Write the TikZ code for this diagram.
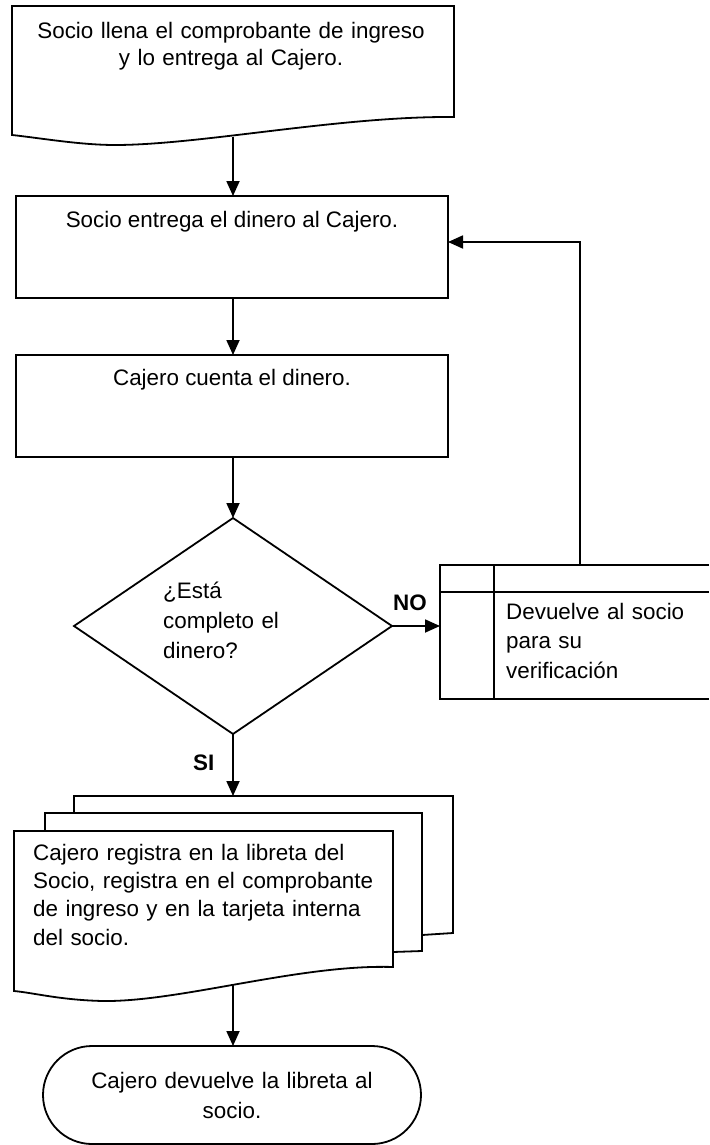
\documentclass[tikz,border=0pt]{standalone}
\usepackage{fontspec}
\setmainfont{Liberation Sans}
\usetikzlibrary{arrows.meta,shapes.geometric}
\begin{document}
\begin{tikzpicture}[x=1pt,y=-1pt,
  shp/.style={draw=black, line width=1.8pt, fill=white},
  box/.style={shp, inner sep=0pt, outer sep=0pt},
  arr/.style={draw=black, line width=1.8pt, -{Triangle[length=15pt,width=13pt]}},
  ln/.style={draw=black, line width=1.8pt},
  txt/.style={inner sep=0pt, font=\fontsize{22.4}{#1}\selectfont},
  lbl/.style={inner sep=0pt, font=\fontsize{22.4}{27}\selectfont\bfseries},
  ]
\useasboundingbox (0,0) rectangle (709,1145);
\fill[white] (0,0) rectangle (709,1145);

% top document
\draw[shp] (12,6) -- (454,6) -- (454,117) .. controls (340,116) and (200,145) .. (115,145) .. controls (80,145) and (40,138) .. (12,135) -- cycle;
\node[txt=27, text width=430pt, align=center, anchor=base] (t1) at (231,39) {Socio llena el comprobante de ingreso\\y lo entrega al Cajero.};
\coordinate (d1b) at (233,137);

% process boxes
\node[box, minimum width=432pt, minimum height=102pt] (r1) at (232,247) {};
\node[txt=29, anchor=base] (t2) at (232,227) {Socio entrega el dinero al Cajero.};
\node[box, minimum width=432pt, minimum height=102pt] (r2) at (232,406) {};
\node[txt=29, anchor=base] (t3) at (232,385) {Cajero cuenta el dinero.};

% decision
\node[box, diamond, minimum width=318pt, minimum height=216pt] (dm) at (233,626) {};
\node[txt=30, text width=150pt, align=left, anchor=base west] (t4) at (163,598) {¿Está\\completo el\\dinero?};

% return box (cut by the right edge)
\draw[ln] (709,565) -- (440,565) -- (440,699) -- (709,699);
\draw[ln] (440,592) -- (709,592);
\draw[ln] (494,565) -- (494,699);
\coordinate (retw) at (440,626);
\coordinate (rettop) at (580,565);
\node[txt=29.5, text width=200pt, align=left, anchor=base west] (t5) at (506,619) {Devuelve al socio\\para su\\verificación};

% multi-document
\draw[shp] (74,796) -- (453,796) -- (453,933) -- (422,935) -- (74,945) -- cycle;
\draw[shp] (45,813) -- (422,813) -- (422,951) -- (393,952) -- (45,960) -- cycle;
\draw[shp] (14,831) -- (393,831) -- (393,967) .. controls (300,964) and (180,1002) .. (103,1001) .. controls (60,1000) and (35,993) .. (14,991) -- cycle;
\node[txt=28.4, text width=370pt, align=left, anchor=base west] (t6) at (33,860) {Cajero registra en la libreta del\\Socio, registra en el comprobante\\de ingreso y en la tarjeta interna\\del socio.};
\coordinate (mtop) at (233,796);
\coordinate (mbot) at (233,984);

% terminator
\node[box, rounded corners=49pt, minimum width=378pt, minimum height=98pt] (tm) at (232,1095) {};
\node[txt=30, text width=370pt, align=center, anchor=base] (t7) at (232,1088) {Cajero devuelve la libreta al\\socio.};

% connectors
\coordinate (r1in) at (448,242);
\draw[arr] (d1b) -- (d1b |- r1.north);
\draw[arr] (r1.south -| d1b) -- (r2.north -| d1b);
\draw[arr] (r2.south -| d1b) -- (dm.north);
\draw[arr] (dm.east) -- (retw);
\draw[arr] (rettop) |- (r1in);
\draw[arr] (dm.south) -- (mtop);
\draw[arr] (mbot) -- (tm.north -| mbot);

% labels
\node[lbl, anchor=base west] (no) at (393,610) {NO};
\node[lbl, anchor=base west] (si) at (193,770) {SI};
\end{tikzpicture}
\end{document}
